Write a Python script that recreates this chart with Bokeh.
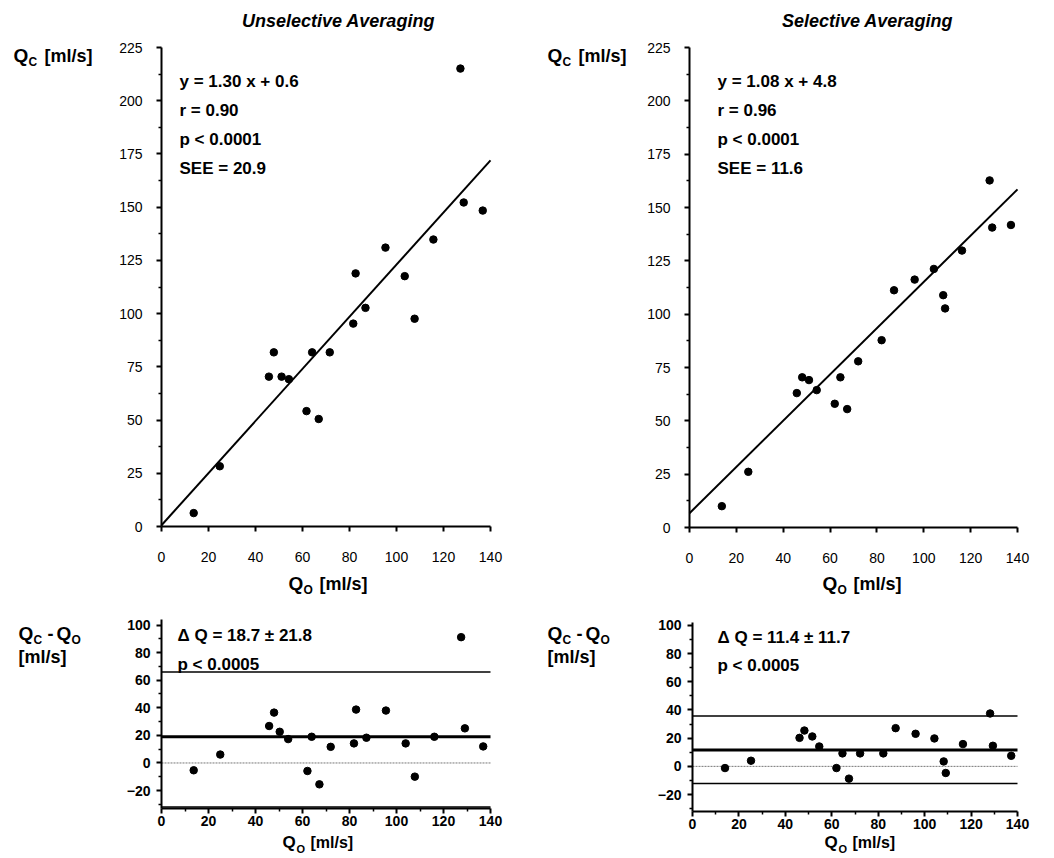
from bokeh.plotting import figure
from bokeh.models import Range1d, FixedTicker, Label
from bokeh.layouts import column, row
from bokeh.embed import file_html
from bokeh.resources import INLINE

# ---------------- data ----------------
x_ticks = [0, 20, 40, 60, 80, 100, 120, 140]
y_ticks_top = [0, 25, 50, 75, 100, 125, 150, 175, 200, 225]
y_ticks_ba = [-20, 0, 20, 40, 60, 80, 100]

# Unselective averaging: Q_O vs Q_C
qo_u = [13.7, 24.8, 45.7, 47.8, 51.1, 54.2, 61.7, 64.1, 66.9, 71.6,
        81.6, 82.6, 86.8, 95.3, 103.5, 107.7, 115.7, 127.2, 128.6, 136.7]
qc_u = [6.3, 28.3, 70.4, 81.8, 70.4, 69.2, 54.2, 81.8, 50.5, 81.8,
        95.3, 118.9, 102.7, 131.0, 117.6, 97.6, 134.8, 215.1, 152.2, 148.4]
fit_u_x = [0, 140]
fit_u_y = [0.6, 172.0]

# Selective averaging: Q_O vs Q_C
qo_s = [13.8, 25.1, 45.8, 48.1, 51.0, 54.3, 62.0, 64.4, 67.3, 72.0,
        82.0, 87.3, 96.1, 104.3, 108.3, 109.1, 116.3, 128.1, 129.2, 137.2]
qc_s = [10.0, 26.1, 63.0, 70.4, 69.1, 64.4, 58.0, 70.4, 55.5, 77.9,
        87.8, 111.2, 116.2, 121.2, 108.9, 102.7, 129.8, 162.7, 140.6, 141.8]
fit_s_x = [0, 140]
fit_s_y = [6.7, 158.5]

# Differences Q_C - Q_O
ba_u_x = [13.7, 25.0, 45.8, 47.9, 50.3, 53.9, 62.1, 63.9, 67.2, 72.0,
          81.9, 82.8, 87.2, 95.5, 103.9, 107.8, 116.1, 127.5, 129.1, 136.9]
ba_u_d = [-5.3, 6.1, 26.8, 36.5, 22.6, 17.3, -5.8, 19.0, -15.5, 11.7,
          14.2, 38.7, 18.3, 38.0, 14.2, -9.9, 19.0, 91.2, 25.1, 12.0]
ba_u_lines = [66.0, 19.0, -32.0]   # upper limit, mean, lower limit

ba_s_x = [14.0, 25.2, 46.1, 48.2, 51.6, 54.6, 62.0, 64.6, 67.4, 72.2,
          82.2, 87.5, 96.1, 104.2, 108.2, 109.1, 116.5, 128.2, 129.4, 137.3]
ba_s_d = [-1.2, 4.0, 20.2, 25.4, 21.2, 14.1, -1.2, 9.2, -8.7, 9.2,
          9.2, 27.1, 23.1, 19.8, 3.5, -4.7, 15.8, 37.5, 14.6, 7.5]
ba_s_lines = [35.7, 11.6, -12.1]

titles = ["Unselective Averaging", "Selective Averaging"]
stats_u = ["y = 1.30 x + 0.6", "r = 0.90", "p < 0.0001", "SEE = 20.9"]
stats_s = ["y = 1.08 x + 4.8", "r = 0.96", "p < 0.0001", "SEE = 11.6"]
ba_text_u = ["\u0394 Q = 18.7 \u00b1 21.8", "p < 0.0005"]
ba_text_s = ["\u0394 Q = 11.4 \u00b1 11.7", "p < 0.0005"]

FONT = "Liberation Sans"


def make_panel(fig_box, axis_box, xr, yr, yticks, yminor, xminor, bold, xstand, ystand):
    fx, fy, fw, fh = fig_box
    L, T, W, H = axis_box
    sx = W / (xr[1] - xr[0])
    sy = H / (yr[1] - yr[0])
    x0 = xr[0] + (fx - L) / sx
    x1 = xr[0] + (fx + fw - L) / sx
    y1 = yr[1] + (T - fy) / sy
    y0 = yr[0] - (fy + fh - (T + H)) / sy
    p = figure(width=fw, height=fh, min_border=0,
               x_range=Range1d(x0, x1), y_range=Range1d(y0, y1),
               output_backend="svg", toolbar_location=None, tools="")
    p.title.visible = False
    p.outline_line_color = None
    p.xgrid.visible = False
    p.ygrid.visible = False
    p.background_fill_color = "white"
    p.border_fill_color = "white"
    p.xaxis.fixed_location = yr[0]
    p.xaxis.bounds = xr
    p.yaxis.fixed_location = xr[0]
    p.yaxis.bounds = yr
    for ax, ticks, minor, stand in ((p.xaxis[0], x_ticks, xminor, xstand),
                                    (p.yaxis[0], yticks, yminor, ystand)):
        ax.ticker = FixedTicker(ticks=ticks, minor_ticks=minor)
        ax.axis_line_width = 2
        ax.axis_line_color = "black"
        ax.major_tick_line_width = 2
        ax.major_tick_out = 5
        ax.major_tick_in = 0
        ax.minor_tick_line_width = 1.5
        ax.minor_tick_out = 3
        ax.minor_tick_in = 0
        ax.major_label_text_font = FONT
        ax.major_label_text_font_size = "14px"
        ax.major_label_text_font_style = "bold" if bold else "normal"
        ax.major_label_text_color = "black"
        ax.major_label_standoff = stand

    def lab(px, py, text, size, style="bold", align="left", baseline="middle"):
        x = x0 + (px - fx) / sx
        y = y1 - (py - fy) / sy
        p.add_layout(Label(x=x, y=y, text=text, text_font=FONT,
                           text_font_size=f"{size}px", text_font_style=style,
                           text_align=align, text_baseline=baseline,
                           text_color="black"))
    return p, lab


def q_label(lab, px, py, sub, tail, big=19, small=12, mid=18):
    lab(px, py, "Q", big)
    lab(px + round(big * 0.8), py + 6, sub, small)
    if tail:
        lab(px + round(big * 1.63), py, tail, mid)


def hline(p, level, width, color="black", dash="solid"):
    p.line([x_ticks[0], x_ticks[-1]], [level, level], line_color=color,
           line_width=width, line_dash=dash)


top_minor = [v + 12.5 for v in y_ticks_top[:-1]]
ba_minor_y = [v + 10 for v in y_ticks_ba[:-1]] + [-30]
ba_minor_x = [v + 10 for v in x_ticks[:-1]]

# ---------------- top-left ----------------
p1, l1 = make_panel((0, 0, 520, 600), (161, 47, 329, 479), (0, 140), (0, 225),
                    y_ticks_top, top_minor, [], False, 20, 14)
p1.line(fit_u_x, fit_u_y, line_color="black", line_width=2)
p1.scatter(qo_u, qc_u, size=7.5, color="black")
l1(338, 20, titles[0], 18, style="bold italic", align="center")
for i, t in enumerate(stats_u):
    l1(179, 81 + 29 * i, t, 17)
q_label(l1, 13, 55, "C", "[ml/s]")
q_label(l1, 288, 583, "O", "[ml/s]")

# ---------------- top-right ----------------
p2, l2 = make_panel((520, 0, 530, 600), (689, 47, 328, 480), (0, 140), (0, 225),
                    y_ticks_top, top_minor, [], False, 20, 14)
p2.line(fit_s_x, fit_s_y, line_color="black", line_width=2)
p2.scatter(qo_s, qc_s, size=7.5, color="black")
l2(867, 20, titles[1], 18, style="bold italic", align="center")
for i, t in enumerate(stats_s):
    l2(717, 81 + 29 * i, t, 17)
q_label(l2, 547, 55, "C", "[ml/s]")
q_label(l2, 822, 583, "O", "[ml/s]")

# ---------------- bottom-left ----------------
p3, l3 = make_panel((0, 600, 520, 254), (161, 619, 329, 189), (0, 140), (-33, 104),
                    y_ticks_ba, ba_minor_y, ba_minor_x, True, 2, 6)
hline(p3, 0, 1, "#777777", "2 1")
hline(p3, ba_u_lines[0], 1.5)
hline(p3, ba_u_lines[1], 3)
hline(p3, ba_u_lines[2], 1.5)
p3.scatter(ba_u_x, ba_u_d, size=7.5, color="black")
l3(177, 635, ba_text_u[0], 17)
l3(177, 664, ba_text_u[1], 17)
q_label(l3, 18, 633, "C", None)
l3(47, 633, "-", 18)
q_label(l3, 56, 633, "O", None)
l3(18, 656, "[ml/s]", 18)
q_label(l3, 282, 842, "O", "[ml/s]", big=17, small=11, mid=16)

# ---------------- bottom-right ----------------
p4, l4 = make_panel((520, 600, 530, 254), (692, 622, 325, 189), (0, 140), (-32, 102),
                    y_ticks_ba, ba_minor_y, ba_minor_x, True, 2, 6)
hline(p4, 0, 1, "#777777", "2 1")
hline(p4, ba_s_lines[0], 1.5)
hline(p4, ba_s_lines[1], 3)
hline(p4, ba_s_lines[2], 1.5)
p4.scatter(ba_s_x, ba_s_d, size=7.5, color="black")
l4(717, 637, ba_text_s[0], 17)
l4(717, 665, ba_text_s[1], 17)
q_label(l4, 547, 633, "C", None)
l4(576, 633, "-", 18)
q_label(l4, 585, 633, "O", None)
l4(547, 656, "[ml/s]", 18)
q_label(l4, 824, 842, "O", "[ml/s]", big=17, small=11, mid=16)

layout = column(row(p1, p2, spacing=0), row(p3, p4, spacing=0), spacing=0)

with open("out.html", "w") as f:
    f.write(file_html(layout, INLINE))
